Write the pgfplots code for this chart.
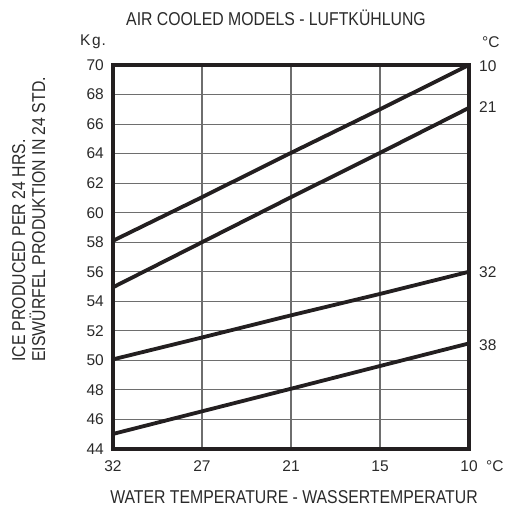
\documentclass[border=0pt]{standalone}
\usepackage{fontspec}
\setmainfont{Liberation Sans}
\newfontfamily\condfont{Liberation Sans}[FakeStretch=0.85]
\usepackage{pgfplots}
\pgfplotsset{compat=1.18}
\definecolor{ink}{HTML}{231F20}
\definecolor{txt}{HTML}{2A2A2A}
\definecolor{gridc}{HTML}{6E6E6E}

% one pt of the picture stands for one pixel of the reference
\newcommand{\tickfont}{\fontsize{15.5}{17}\selectfont}
\newcommand{\labfont}{\condfont\fontsize{18.6}{20}\selectfont}

\begin{document}
\begin{tikzpicture}[x=1pt,y=1pt]
\useasboundingbox (-113,-62) rectangle (395,449);
\begin{axis}[
    at={(0,0)}, anchor=south west,
    scale only axis,
    width=356pt, height=384pt,
    xmin=0, xmax=4, ymin=44, ymax=70,
    xtick={0,...,4},
    xticklabels={32,27,21,15,10},
    ytick={44,46,...,70},
    major tick length=0pt,
    grid=major,
    major grid style={gridc, line width=1.1pt},
    axis line style={ink, line width=4pt},
    clip mode=individual,
    /pgf/number format/assume math mode=true,
    ticklabel style={font=\tickfont, text=txt, inner sep=0pt},
    yticklabel style={xshift=-9pt},
    xticklabel style={yshift=-11.5pt},
]
% 10 degC
\addplot[ink, no markers, line width=3.8pt] coordinates {(0,58.1) (1,61.05) (2,64.05) (3,67.0) (4,70.0)};
% 21 degC
\addplot[ink, no markers, line width=3.8pt] coordinates {(0,54.95) (1,58.0) (2,61.05) (3,64.05) (4,67.1)};
% 32 degC
\addplot[ink, no markers, line width=3.8pt] coordinates {(0,50.07) (1,51.55) (2,53.05) (3,54.5) (4,56.0)};
% 38 degC
\addplot[ink, no markers, line width=3.8pt] coordinates {(0,45.02) (1,46.55) (2,48.08) (3,49.62) (4,51.15)};

\node[anchor=west, font=\tickfont, text=txt, inner sep=0pt] at (axis cs:4,69.93) [xshift=10pt] {10};
\node[anchor=west, font=\tickfont, text=txt, inner sep=0pt] at (axis cs:4,67.18) [xshift=10pt] {21};
\node[anchor=west, font=\tickfont, text=txt, inner sep=0pt] at (axis cs:4,55.98) [xshift=10pt] {32};
\node[anchor=west, font=\tickfont, text=txt, inner sep=0pt] at (axis cs:4,51.04) [xshift=10pt] {38};
\end{axis}

\node[font=\tickfont, text=txt, anchor=west, inner sep=0pt] at (-33,407) {K\hspace{1.5pt}g\hspace{1pt}.};
\node[font=\tickfont, text=txt, anchor=west, inner sep=0pt] at (369,407) {°C};
\node[font=\tickfont, text=txt, anchor=west, inner sep=0pt] at (373,-17) {°C};
\node[font=\labfont, text=txt, inner sep=0pt] at (163,431) {AIR COOLED MODELS - LUFTKÜHLUNG};
\node[font=\labfont, text=txt, inner sep=0pt] at (181,-48) {WATER TEMPERATURE - WASSERTEMPERATUR};
\node[font=\labfont, text=txt, inner sep=0pt, rotate=90, align=left, anchor=north west]
    at (-101,87) {ICE PRODUCED PER 24 HRS.\\EISWÜRFEL PRODUKTION IN 24 STD.};
\end{tikzpicture}
\end{document}
